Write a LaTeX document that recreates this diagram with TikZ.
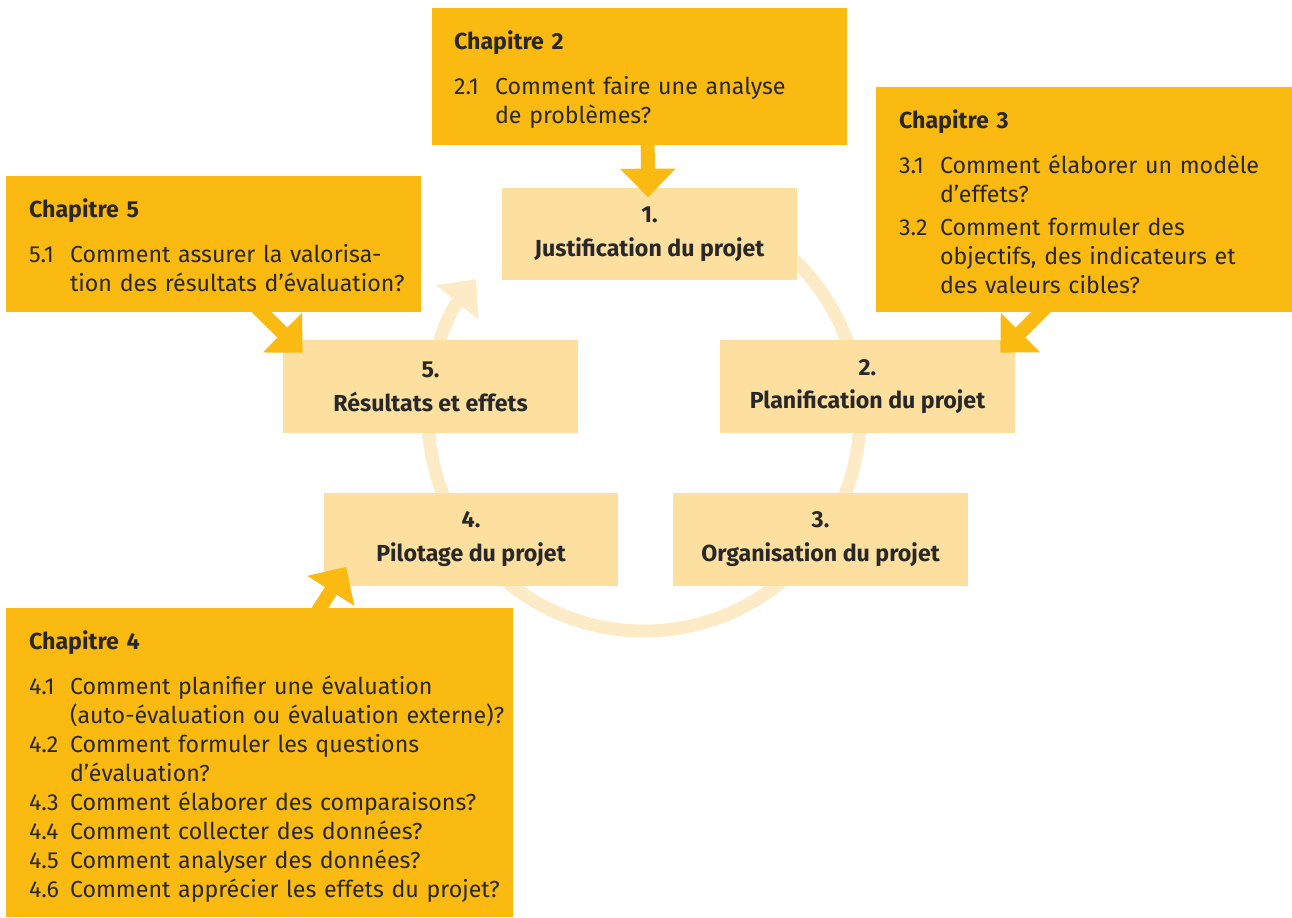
\documentclass[tikz,border=0pt]{standalone}
\usepackage{fontspec}
\setmainfont{Fira Sans}
\usetikzlibrary{arrows.meta,calc}

\definecolor{chapyellow}{RGB}{251,186,18}
\definecolor{steplight}{RGB}{253,223,160}
\definecolor{ringlight}{RGB}{253,235,200}
\definecolor{inkgray}{RGB}{40,40,40}

% chapter heading, then the questions in a two column table
\newcommand{\chaptitle}[1]{{\bfseries #1}\par\vspace{9pt}\noindent}
\newenvironment{qlist}{\begin{tabular}[t]{@{}p{0.82cm}@{}l@{}}}{\end{tabular}}

\tikzset{
  chapbox/.style={fill=chapyellow, inner sep=0},
  stepbox/.style={fill=steplight, minimum width=5.9cm, minimum height=1.86cm,
    align=center, text=inkgray, font=\bfseries\fontsize{13.2}{18.2}\selectfont},
  chaptext/.style={anchor=north west, inner sep=0, text width=10.2cm, align=left,
    text=inkgray, font=\fontsize{13.2}{16.5}\selectfont},
  feed/.style={chapyellow, line width=0.28cm, -{Triangle[length=0.57cm,width=1.08cm]}},
}

\begin{document}
\begin{tikzpicture}[x=0.02cm,y=-0.02cm]
 \useasboundingbox (0,0) rectangle (1292,917);

 % the project cycle
 \draw[ringlight, line width=0.26cm, -{Triangle[length=0.6cm,width=1.05cm]}]
   (644,415) ++(-90:216) arc[start angle=-90, end angle=219, radius=216];

 \node[stepbox] (s1) at (649.5,234) {1.\\[1pt]Justification du projet};
 \node[stepbox] (s2) at (867.5,386.5) {2.\\[1pt]Planification du projet};
 \node[stepbox] (s3) at (820.5,539) {3.\\[1pt]Organisation du projet};
 \node[stepbox] (s4) at (471,539) {4.\\[1pt]Pilotage du projet};
 \node[stepbox] (s5) at (430.5,386.5) {5.\\[1pt]Résultats et effets};

 % chapters
 \node[chapbox, minimum width=8.3cm, minimum height=2.74cm] (ch2) at (639.5,76.5) {};
 \node[chapbox, minimum width=8.32cm, minimum height=4.5cm] (ch3) at (1084,199.5) {};
 \node[chapbox, minimum width=8.3cm, minimum height=2.72cm] (ch5) at (213.5,244) {};
 \node[chapbox, minimum width=10.14cm, minimum height=6.18cm] (ch4) at (259.5,762.5) {};

 \draw[feed] ($(ch2.south west)+(216,-2)$) -- ($(s1.north)+(-1.5,10)$);
 \draw[feed] ($(ch3.south west)+(175,-10)$) -- ($(s2.north east)+(-15,13)$);
 \draw[feed] ($(ch5.south west)+(246,-10)$) -- ($(s5.north west)+(20,13)$);
 \draw[feed] ($(ch4.north west)+(308,10)$) -- ($(s4.south west)+(23,-19)$);

 \node[chaptext] (t2) at ($(ch2.north west)+(22,23)$) {\chaptitle{Chapitre 2}%
   \begin{qlist}
   2.1 & Comment faire une analyse\\
       & de problèmes?
   \end{qlist}};
 \node[chaptext] (t3) at ($(ch3.north west)+(23,23)$) {\chaptitle{Chapitre 3}%
   \begin{qlist}
   3.1 & Comment élaborer un modèle\\
       & d’effets?\\[2pt]
   3.2 & Comment formuler des\\
       & objectifs, des indicateurs et\\
       & des valeurs cibles?
   \end{qlist}};
 \node[chaptext] (t5) at ($(ch5.north west)+(23,23)$) {\chaptitle{Chapitre 5}%
   \begin{qlist}
   5.1 & Comment assurer la valorisa-\\
       & tion des résultats d’évaluation?
   \end{qlist}};
 \node[chaptext] (t4) at ($(ch4.north west)+(23,23)$) {\chaptitle{Chapitre 4}%
   \begin{qlist}
   4.1 & Comment planifier une évaluation\\
       & (auto-évaluation ou évaluation externe)?\\
   4.2 & Comment formuler les questions\\
       & d’évaluation?\\
   4.3 & Comment élaborer des comparaisons?\\
   4.4 & Comment collecter des données?\\
   4.5 & Comment analyser des données?\\
   4.6 & Comment apprécier les effets du projet?
   \end{qlist}};
\end{tikzpicture}
\end{document}
